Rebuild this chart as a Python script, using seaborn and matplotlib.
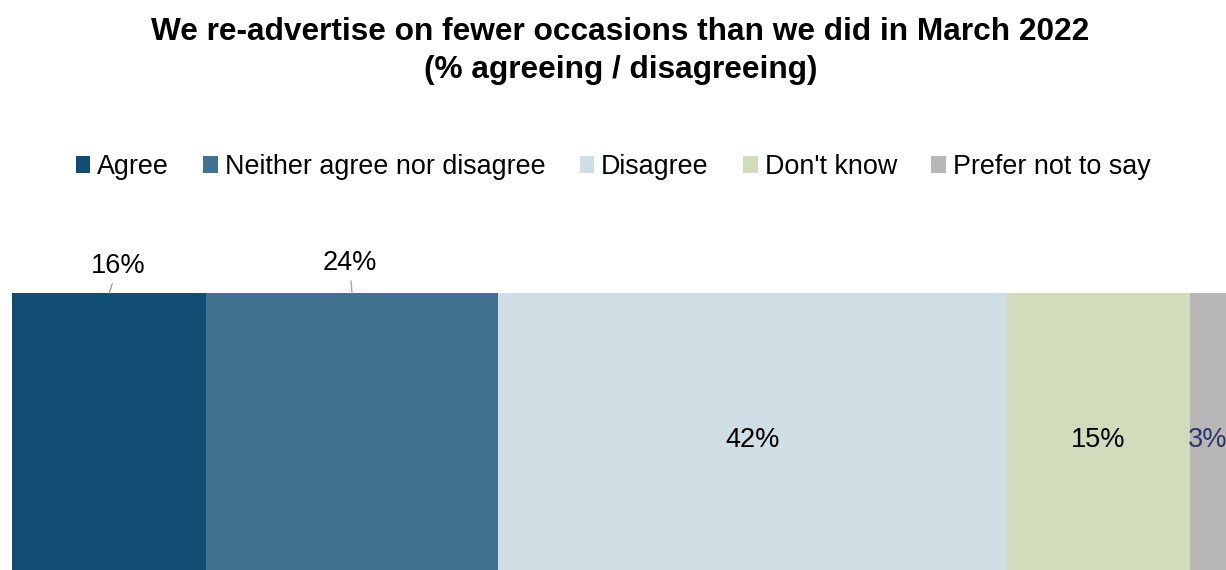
import numpy as np
import pandas as pd
import seaborn as sns
from matplotlib import pyplot as plt
from matplotlib.patches import Patch

categories = ["Agree", "Neither agree nor disagree", "Disagree", "Don't know", "Prefer not to say"]
values = [16, 24, 42, 15, 3]
colours = ["#114D72", "#41728F", "#CFDDE4", "#D1DCBD", "#B7B7B7"]
labels = ["16%", "24%", "42%", "15%", "3%"]

sns.set_theme(style="white")
plt.rcParams['font.family'] = ['Liberation Sans', 'DejaVu Sans']
plt.rcParams['text.color'] = 'black'

fig = plt.figure(figsize=(12.26, 5.70), dpi=100)
ax = fig.add_axes([12 / 1226, 0, 1 - 12 / 1226, 277 / 570])

cum = np.cumsum(values)
# draw cumulative bars from the longest down so each segment shows
for i in reversed(range(len(values))):
    d = pd.DataFrame({"val": [cum[i]], "row": ["q"]})
    sns.barplot(data=d, x="val", y="row", color=colours[i], width=1.0,
                orient="h", ax=ax, saturation=1, linewidth=0)

ax.set_xlim(0, cum[-1])
ax.set_ylim(0.5, -0.5)
ax.axis("off")

starts = cum - np.array(values)
centres = starts + np.array(values) / 2
for i, lab in enumerate(labels):
    if i < 2:
        # small labels sit above the bar with a leader line
        dx = 6.5 if i == 0 else -1.5
        dy = 10 if i == 0 else 12
        ax.annotate(lab, xy=(centres[i], -0.5), xycoords="data",
                    xytext=(dx, dy), textcoords="offset points",
                    ha="center", va="bottom", fontsize=19.5, color="black",
                    annotation_clip=False,
                    arrowprops=dict(arrowstyle="-", color="#A6A6A6", lw=1,
                                    shrinkA=1, shrinkB=0))
    else:
        col = "#2E3567" if i == 4 else "black"
        ax.text(centres[i], 0.03, lab, ha="center", va="center", fontsize=19.5,
                color=col, clip_on=False)

fig.text(0.506, 1 - 17 / 570,
         "We re-advertise on fewer occasions than we did in March 2022\n(% agreeing / disagreeing)",
         ha="center", va="top", fontsize=22.8, fontweight="bold", linespacing=1.34,
         color="black")

handles = [Patch(facecolor=c, edgecolor="none") for c in colours]
fig.legend(handles, categories, loc="center", bbox_to_anchor=(0.5, 1 - 167 / 570),
           ncol=5, frameon=False, fontsize=19.4, handlelength=0.55, handleheight=0.55,
           handletextpad=0.25, columnspacing=1.27, labelcolor="black")

fig.savefig("out.png", dpi=100)
